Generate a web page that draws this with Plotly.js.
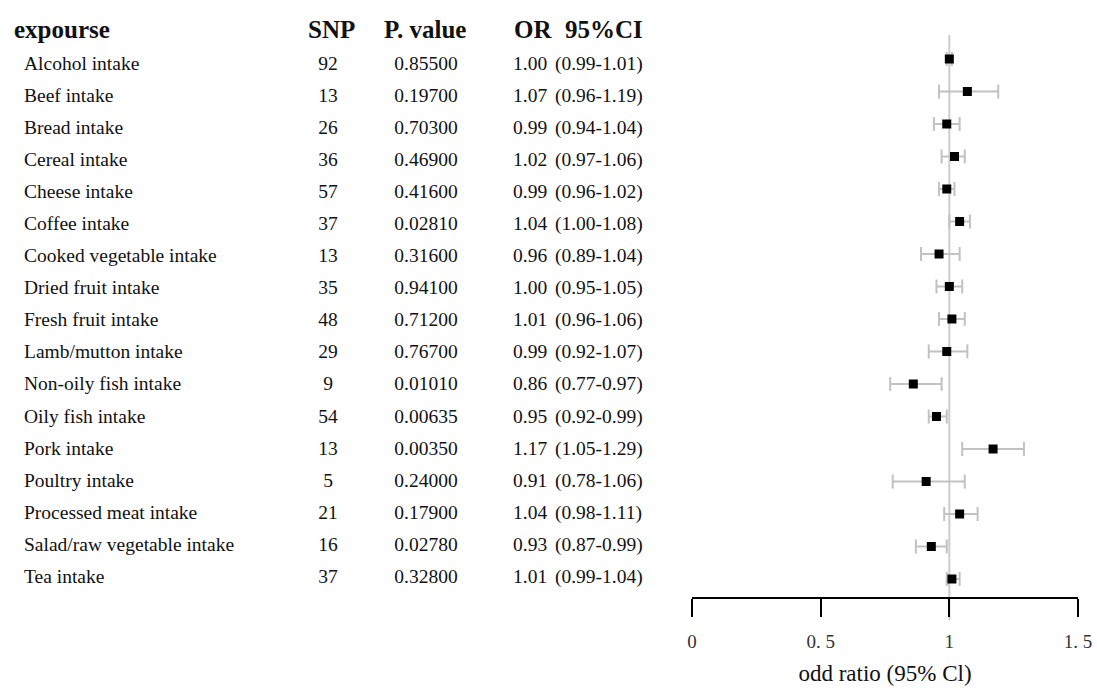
<!DOCTYPE html>
<html>
<head>
<meta charset="utf-8">
<script src="https://cdn.plot.ly/plotly-3.0.1.min.js"></script>
<style>html,body{margin:0;padding:0;background:#fff;}#chart{width:1097px;height:689px;}</style>
</head>
<body>
<div id="chart"></div>
<script>
// ---- data ----
var exposures = ["Alcohol intake","Beef intake","Bread intake","Cereal intake","Cheese intake","Coffee intake","Cooked vegetable intake","Dried fruit intake","Fresh fruit intake","Lamb/mutton intake","Non-oily fish intake","Oily fish intake","Pork intake","Poultry intake","Processed meat intake","Salad/raw vegetable intake","Tea intake"];
var snp = [92,13,26,36,57,37,13,35,48,29,9,54,13,5,21,16,37];
var pvals = ["0.85500","0.19700","0.70300","0.46900","0.41600","0.02810","0.31600","0.94100","0.71200","0.76700","0.01010","0.00635","0.00350","0.24000","0.17900","0.02780","0.32800"];
var orv = [1.00,1.07,0.99,1.02,0.99,1.04,0.96,1.00,1.01,0.99,0.86,0.95,1.17,0.91,1.04,0.93,1.01];
var ciLow = [0.99,0.96,0.94,0.97,0.96,1.00,0.89,0.95,0.96,0.92,0.77,0.92,1.05,0.78,0.98,0.87,0.99];
var ciHigh = [1.01,1.19,1.04,1.06,1.02,1.08,1.04,1.05,1.06,1.07,0.97,0.99,1.29,1.06,1.11,0.99,1.04];
var headers = ["expourse","SNP","P. value","OR","95%CI"];
var tickVals = [0,0.5,1,1.5];
var tickText = ["0","0. 5","1","1. 5"];
var axisTitle = "odd ratio (95% Cl)";

var W = 1097, H = 689;
var serif = "Liberation Serif, Times New Roman, serif";
var txtFont = {family: serif, size: 19.5, color: "#111"};

var orText = orv.map(function(v){return v.toFixed(2);});
var ciText = ciLow.map(function(l,i){return "(" + l.toFixed(2) + "-" + ciHigh[i].toFixed(2) + ")";});

function textTrace(xpos, texts, pos){
  return {
    type: "scatter", mode: "text", xaxis: "x2", yaxis: "y2",
    x: exposures.map(function(){return xpos;}), y: exposures,
    text: texts, textposition: pos, textfont: txtFont,
    hoverinfo: "skip", showlegend: false
  };
}

var traces = [
  {
    type: "scatter", mode: "markers", x: orv, y: exposures,
    marker: {symbol: "square", size: 9, color: "#000"},
    error_x: {type: "data", symmetric: false,
      array: ciHigh.map(function(h,i){return +(h - orv[i]).toFixed(4);}),
      arrayminus: ciLow.map(function(l,i){return +(orv[i] - l).toFixed(4);}),
      color: "#c2c2c2", thickness: 2, width: 7},
    showlegend: false
  },
  textTrace(24, exposures, "middle right"),
  textTrace(328, snp.map(String), "middle center"),
  textTrace(426, pvals, "middle center"),
  textTrace(513, orText, "middle right"),
  textTrace(555, ciText, "middle right")
];

function py(px){ return 1 - px / H; }
var hdrFont = {family: serif, size: 25, color: "#111"};
var hdrY = py(29);
var annotations = [
  {text: "<b>" + headers[0] + "</b>", xref: "x2", x: 12, xanchor: "left"},
  {text: "<b>" + headers[1] + "</b>", xref: "x2", x: 331, xanchor: "center"},
  {text: "<b>" + headers[2] + "</b>", xref: "x2", x: 425, xanchor: "center"},
  {text: "<b>" + headers[3] + "</b>", xref: "x2", x: 512, xanchor: "left"},
  {text: "<b>" + headers[4] + "</b>", xref: "x2", x: 563, xanchor: "left"}
].map(function(a){
  a.yref = "paper"; a.y = hdrY; a.yanchor = "middle"; a.showarrow = false; a.font = hdrFont; return a;
});

var rowTop = 59, rowStep = 32.5, axisY = 597;
var txtTop = 65, txtStep = 32.06;

var layout = {
  width: W, height: H,
  margin: {l: 0, r: 0, t: 0, b: 0},
  paper_bgcolor: "#fff", plot_bgcolor: "rgba(0,0,0,0)",
  showlegend: false,
  xaxis: {
    domain: [692 / W, 1078 / W], range: [0, 1.5], anchor: "y",
    showline: true, linecolor: "#000", linewidth: 2,
    ticks: "outside", ticklen: 18, tickwidth: 2, tickcolor: "#000",
    tickmode: "array", tickvals: tickVals, ticktext: tickText,
    ticklabelstandoff: 8,
    tickfont: {family: serif, size: 19, color: "#333"},
    showgrid: false, zeroline: false, fixedrange: true,
    title: {text: axisTitle, font: {family: serif, size: 23, color: "#111"}, standoff: 14}
  },
  xaxis2: {
    domain: [0, 690 / W], range: [0, 690], anchor: "y",
    visible: false, showgrid: false, zeroline: false, fixedrange: true
  },
  yaxis: {
    type: "category", categoryarray: exposures, categoryorder: "array",
    domain: [py(axisY), 1],
    range: [(axisY - rowTop) / rowStep, -rowTop / rowStep],
    visible: false, showgrid: false, zeroline: false, fixedrange: true
  },
  yaxis2: {
    type: "category", categoryarray: exposures, categoryorder: "array",
    overlaying: "y", anchor: "x2",
    range: [(axisY - txtTop) / txtStep, -txtTop / txtStep],
    visible: false, showgrid: false, zeroline: false, fixedrange: true
  },
  shapes: [{
    type: "line", xref: "x", yref: "paper", x0: 1, x1: 1,
    y0: py(620), y1: py(35), layer: "below",
    line: {color: "#cccccc", width: 2}
  }],
  annotations: annotations
};

Plotly.newPlot("chart", traces, layout, {displayModeBar: false, staticPlot: true});
</script>
</body>
</html>
